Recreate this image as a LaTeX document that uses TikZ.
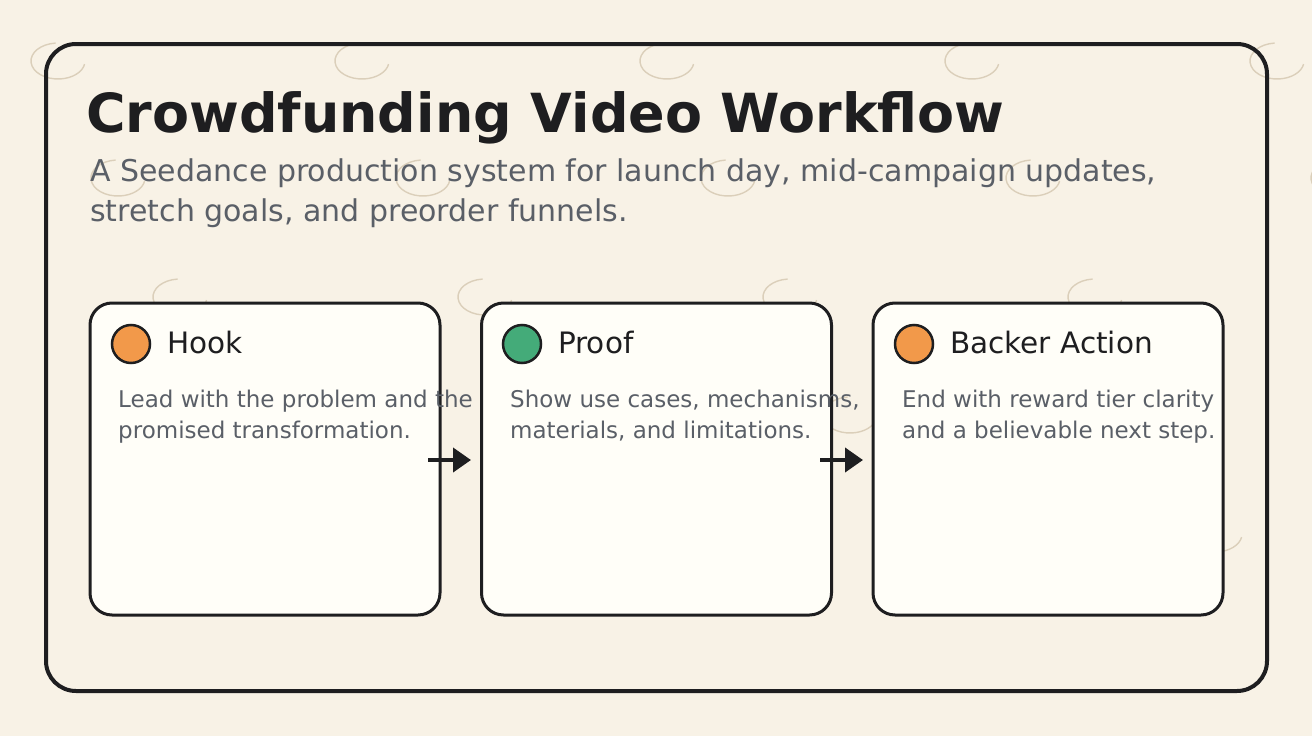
\documentclass[tikz,border=0pt]{standalone}
\usepackage{fontspec}
\setmainfont{DejaVu Sans}
\usetikzlibrary{arrows.meta}
\definecolor{bgc}{HTML}{F8F2E6}
\definecolor{cardc}{HTML}{FFFEF8}
\definecolor{inkc}{HTML}{1E1E20}
\definecolor{grayc}{HTML}{5A5F67}
\definecolor{arcc}{HTML}{DBCFBA}
\definecolor{orangec}{HTML}{F2994A}
\definecolor{greenc}{HTML}{44AB79}
\tikzset{
  arcst/.style={draw=arcc,line width=1.4pt},
  framest/.style={draw=inkc,line width=4pt,rounded corners=30pt,minimum width=1221pt,minimum height=647pt,inner sep=0pt},
  cardst/.style={draw=inkc,fill=cardc,line width=3pt,rounded corners=22pt,minimum width=350pt,minimum height=312pt,inner sep=0pt},
  dotst/.style={circle,draw=inkc,line width=2.5pt,minimum size=38pt,inner sep=0pt},
  cardtitle/.style={anchor=base west,inner sep=0pt,text=inkc,font=\fontsize{29.5}{34}\selectfont},
  carddesc/.style={anchor=base west,inner sep=0pt,text=grayc,font=\fontsize{23}{31}\selectfont,align=left},
  arrowst/.style={draw=inkc,line width=4pt,-{Triangle[length=18pt,width=24pt]}},
}
\newcommand{\bgarc}[2]{\draw[arcst,shift={(#1,-#2)}] (95:27 and 18) arc[start angle=95,end angle=350,x radius=27,y radius=18];}
\begin{document}
\begin{tikzpicture}[x=1pt,y=1pt]
\fill[bgc] (0,0) rectangle (1312,-736);
\useasboundingbox (0,0) rectangle (1312,-736);
% background arcs
\foreach \xx in {58,362,667,972,1277} {\bgarc{\xx}{61}}
\foreach \xx in {118,423,728,1033,1338} {\bgarc{\xx}{178}}
\foreach \xx in {180,485,790,1095} {\bgarc{\xx}{297}}
\foreach \xx in {240,545,850,1155} {\bgarc{\xx}{415}}
\foreach \xx in {300,605,910,1215} {\bgarc{\xx}{534}}
% frame
\node[framest] (frame) at (656.5,-367.5) {};
% title
\node[anchor=base west,inner sep=0pt,text=inkc,font=\fontsize{53.9}{60}\selectfont\bfseries] (title) at (86,-132) {Crowdfunding Video Workflow};
\node[anchor=base west,inner sep=0pt,text=grayc,font=\fontsize{30}{40}\selectfont,align=left] (sub) at (90,-221) {A Seedance production system for launch day, mid-campaign updates,\\stretch goals, and preorder funnels.};
% cards
\node[cardst] (card1) at (265,-459) {};
\node[cardst] (card2) at (656.5,-459) {};
\node[cardst] (card3) at (1048,-459) {};
% dots
\node[dotst,fill=orangec] (dot1) at (131,-344) {};
\node[dotst,fill=greenc] (dot2) at (522,-344) {};
\node[dotst,fill=orangec] (dot3) at (914,-344) {};
% card titles
\node[cardtitle] (t1) at (167,-353) {Hook};
\node[cardtitle] (t2) at (558,-353) {Proof};
\node[cardtitle] (t3) at (950,-353) {Backer Action};
% arrows
\coordinate (a1s) at (428,-460);
\coordinate (a1e) at (471,-460);
\coordinate (a2s) at (820,-460);
\coordinate (a2e) at (863,-460);
\draw[arrowst] (a1s) -- (a1e);
\draw[arrowst] (a2s) -- (a2e);
% descriptions
\node[carddesc] (d1) at (118,-438) {Lead with the problem and the\\promised transformation.};
\node[carddesc] (d2) at (510,-438) {Show use cases, mechanisms,\\materials, and limitations.};
\node[carddesc] (d3) at (902,-438) {End with reward tier clarity\\and a believable next step.};
\end{tikzpicture}
\end{document}
